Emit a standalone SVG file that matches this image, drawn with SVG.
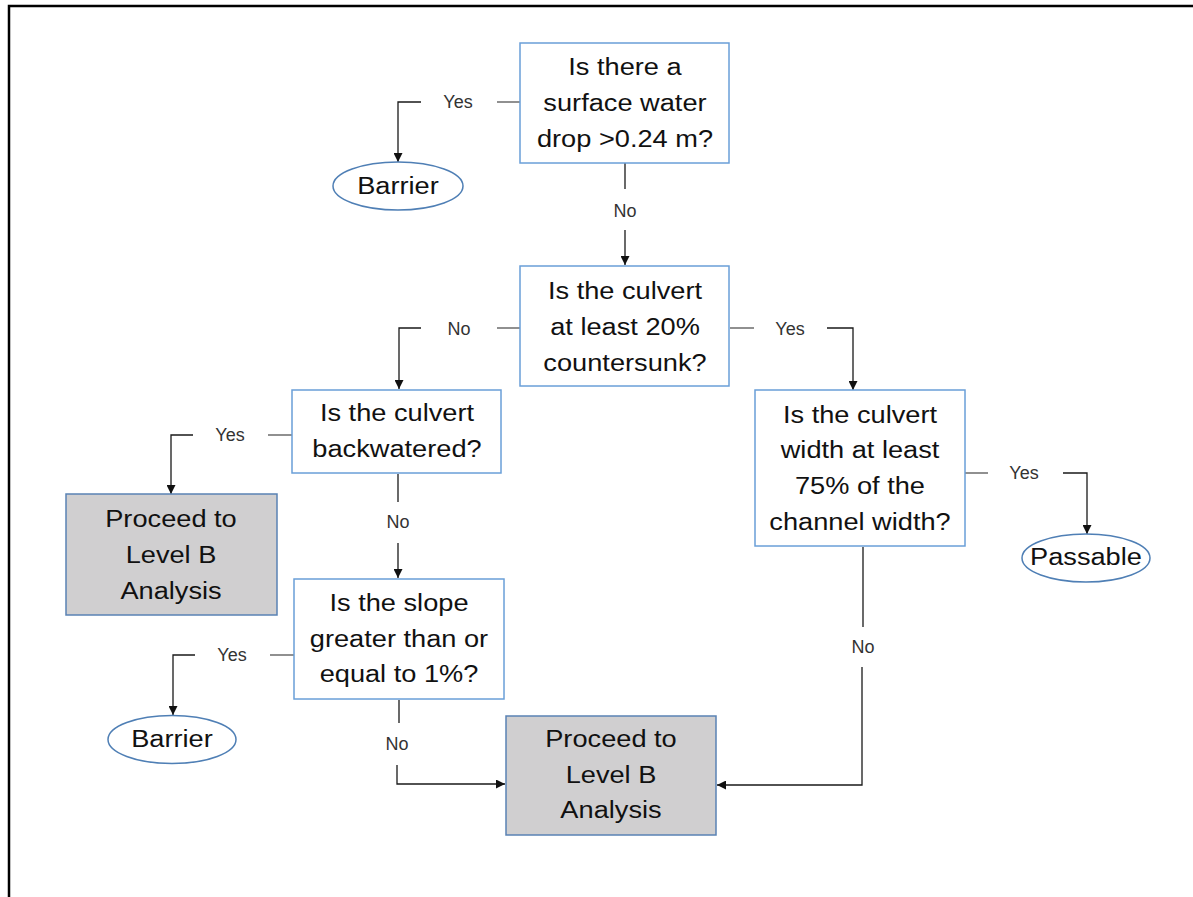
<svg xmlns="http://www.w3.org/2000/svg" width="1193" height="897" viewBox="0 0 1193 897">
<defs>
<style>
.q{fill:#ffffff;stroke:#6a9fd8;stroke-width:1.5}
.p{fill:#d0cfd0;stroke:#5a82b4;stroke-width:1.5}
.e{fill:#ffffff;stroke:#4f7fb5;stroke-width:1.5}
.t{font-family:"Liberation Sans",Arial,sans-serif;font-size:24.5px;fill:#111;text-anchor:middle;transform-box:fill-box;transform-origin:center;transform:scaleX(1.11)}
.l{font-family:"Liberation Sans",Arial,sans-serif;font-size:18px;fill:#333;text-anchor:middle}
.c{fill:none;stroke:#1a1a1a;stroke-width:1.3}
.s{fill:none;stroke:#6b6b6b;stroke-width:1.5}
</style>
<marker id="ah" viewBox="0 0 10 10" refX="10" refY="5" markerWidth="9" markerHeight="9" markerUnits="userSpaceOnUse" orient="auto">
<path d="M0,0 L10,5 L0,10 z" fill="#111"/>
</marker>
</defs>
<rect width="1193" height="897" fill="#ffffff"/>
<path d="M9,897 V6 H1193" fill="none" stroke="#000" stroke-width="2.5"/>

<g id="connectors">
<path class="s" d="M520,102 H497"/>
<path class="c" d="M421,102 H398 V162" marker-end="url(#ah)"/>
<text class="l" x="458" y="108">Yes</text>
<path class="c" d="M625,163 V189"/>
<path class="c" d="M625,230 V265" marker-end="url(#ah)"/>
<text class="l" x="625" y="217">No</text>
<path class="s" d="M520,328 H497"/>
<path class="c" d="M421,328 H399 V389" marker-end="url(#ah)"/>
<text class="l" x="459" y="335">No</text>
<path class="s" d="M730,328 H754"/>
<path class="c" d="M827,328 H853 V390" marker-end="url(#ah)"/>
<text class="l" x="790" y="335">Yes</text>
<path class="s" d="M292,435 H268"/>
<path class="c" d="M193,435 H171 V494" marker-end="url(#ah)"/>
<text class="l" x="230" y="441">Yes</text>
<path class="c" d="M398,474 V502"/>
<path class="c" d="M398,543 V578" marker-end="url(#ah)"/>
<text class="l" x="398" y="528">No</text>
<path class="s" d="M294,655 H270"/>
<path class="c" d="M195,655 H173 V715" marker-end="url(#ah)"/>
<text class="l" x="232" y="661">Yes</text>
<path class="c" d="M399,700 V723"/>
<path class="c" d="M397,765 V784 H505" marker-end="url(#ah)"/>
<text class="l" x="397" y="750">No</text>
<path class="s" d="M965,473 H988"/>
<path class="c" d="M1063,473 H1087 V534" marker-end="url(#ah)"/>
<text class="l" x="1024" y="479">Yes</text>
<path class="c" d="M863,547 V627"/>
<path class="c" d="M862,667 V785 H717" marker-end="url(#ah)"/>
<text class="l" x="863" y="653">No</text>
</g>

<g id="node1">
<rect class="q" x="520" y="43" width="209" height="120"/>
<text class="t" x="625" y="75">Is there a</text>
<text class="t" x="625" y="111">surface water</text>
<text class="t" x="625" y="147">drop &gt;0.24 m?</text>
</g>

<g id="barrier1">
<ellipse class="e" cx="398" cy="186" rx="65" ry="24"/>
<text class="t" x="398" y="194">Barrier</text>
</g>

<g id="node2">
<rect class="q" x="520" y="266" width="209" height="120"/>
<text class="t" x="625" y="299">Is the culvert</text>
<text class="t" x="625" y="335">at least 20%</text>
<text class="t" x="625" y="371">countersunk?</text>
</g>

<g id="node3">
<rect class="q" x="292" y="390" width="209" height="83"/>
<text class="t" x="397" y="421">Is the culvert</text>
<text class="t" x="397" y="457">backwatered?</text>
</g>

<g id="proceed1">
<rect class="p" x="66" y="494" width="211" height="121"/>
<text class="t" x="171" y="527">Proceed to</text>
<text class="t" x="171" y="563">Level B</text>
<text class="t" x="171" y="599">Analysis</text>
</g>

<g id="node5">
<rect class="q" x="294" y="579" width="210" height="120"/>
<text class="t" x="399" y="611">Is the slope</text>
<text class="t" x="399" y="647">greater than or</text>
<text class="t" x="399" y="682">equal to 1%?</text>
</g>

<g id="barrier2">
<ellipse class="e" cx="172" cy="739.5" rx="64" ry="24"/>
<text class="t" x="172" y="747">Barrier</text>
</g>

<g id="proceed2">
<rect class="p" x="506" y="716" width="210" height="119"/>
<text class="t" x="611" y="747">Proceed to</text>
<text class="t" x="611" y="783">Level B</text>
<text class="t" x="611" y="818">Analysis</text>
</g>

<g id="node4">
<rect class="q" x="755" y="390" width="210" height="156"/>
<text class="t" x="860" y="423">Is the culvert</text>
<text class="t" x="860" y="458">width at least</text>
<text class="t" x="860" y="494">75% of the</text>
<text class="t" x="860" y="530">channel width?</text>
</g>

<g id="passable">
<ellipse class="e" cx="1086" cy="558" rx="64" ry="24"/>
<text class="t" x="1086" y="565">Passable</text>
</g>
</svg>
